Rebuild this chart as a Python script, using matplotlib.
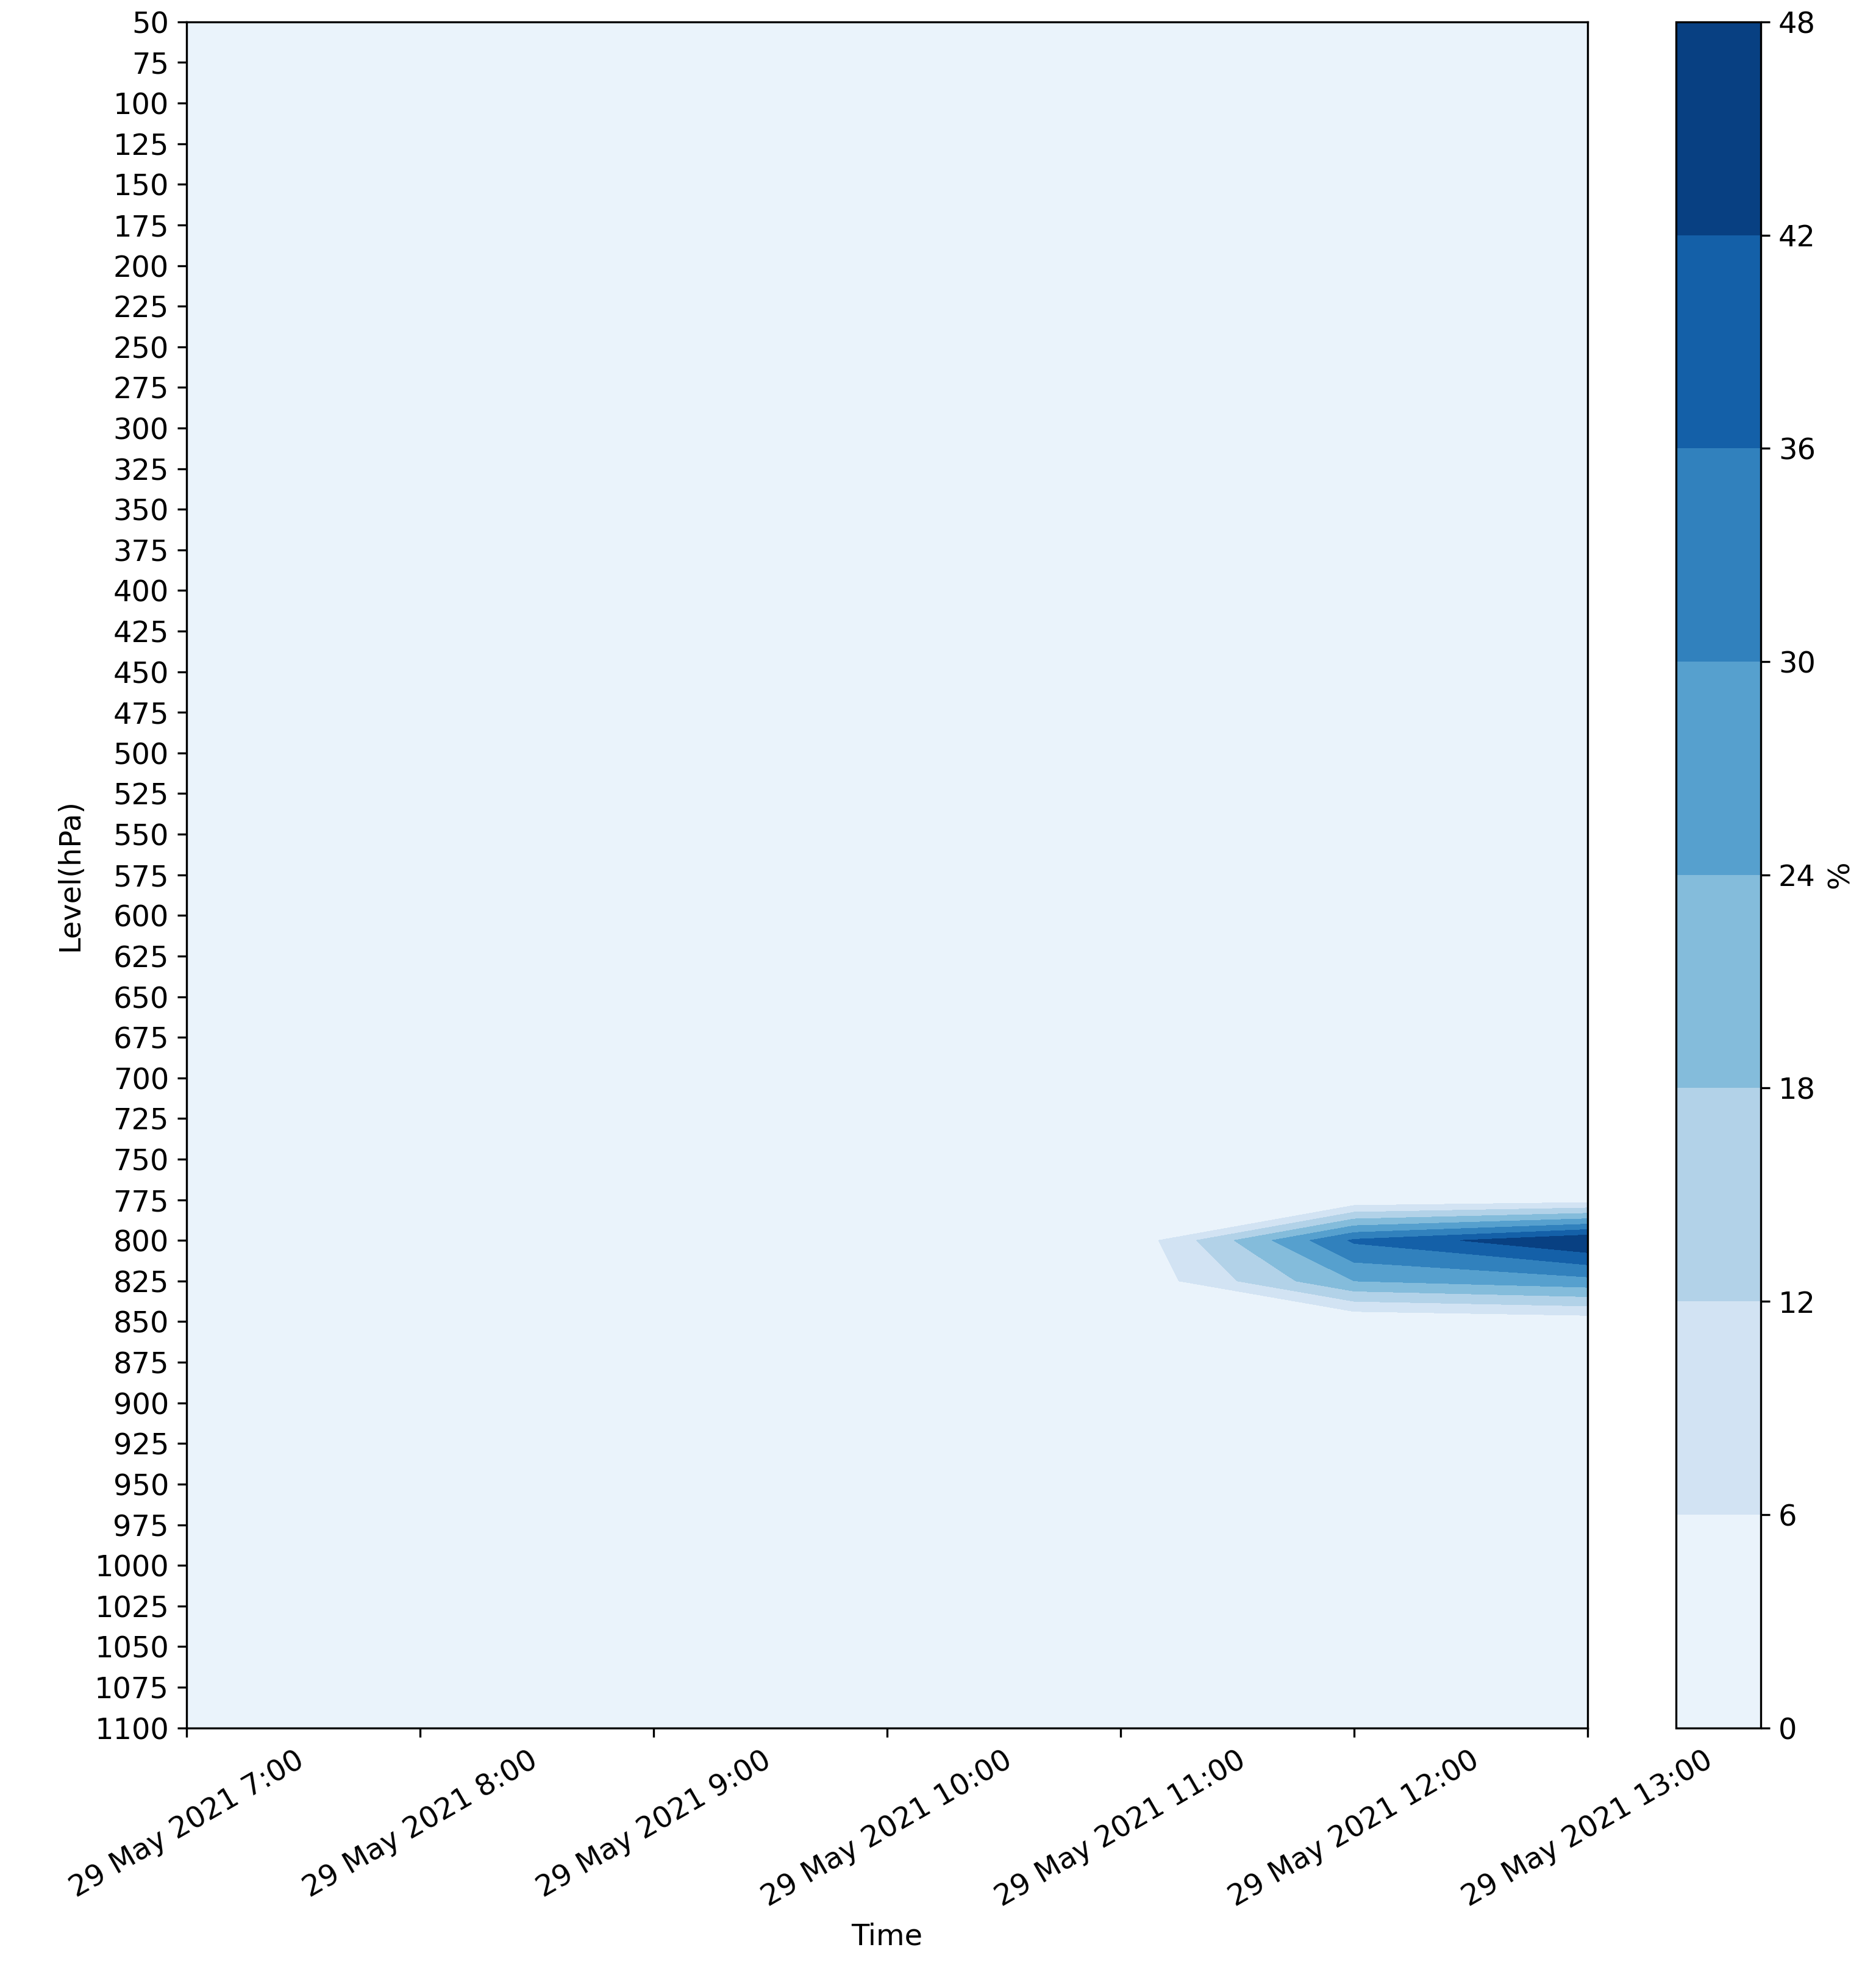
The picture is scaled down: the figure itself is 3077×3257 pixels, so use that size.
import matplotlib
matplotlib.use("Agg")
import matplotlib.pyplot as plt
import numpy as np

hours = [7, 8, 9, 10, 11, 12, 13]
time_labels = [f"29 May 2021 {h}:00" for h in hours]
levels_hpa = list(range(50, 1101, 25))
# nonzero cloud values (level -> values at hours 7..13)
nonzero = {
    775: [0, 0, 0, 0, 0, 1, 3],
    800: [0, 0, 0, 0, 0, 37, 48],
    825: [0, 0, 0, 0, 0, 24, 28],
    850: [0, 0, 0, 0, 0, 0, 2],
}
contour_levels = [0, 6, 12, 18, 24, 30, 36, 42, 48]

Z = np.zeros((len(levels_hpa), len(hours)))
for lev, vals in nonzero.items():
    Z[levels_hpa.index(lev), :] = vals

plt.rcParams['font.size'] = 11.5
fig = plt.figure(figsize=(3077/300, 3257/300), dpi=300)
ax = fig.add_axes([0.0995, 0.130, 0.7468, 0.859])
cax = fig.add_axes([0.8935, 0.130, 0.045, 0.859])
cf = ax.contourf(hours, levels_hpa, Z, levels=contour_levels, cmap="Blues")
ax.set_ylim(1100, 50)
ax.set_xlim(7, 13)
ax.set_yticks(levels_hpa)
ax.set_yticklabels([str(l) for l in levels_hpa])
ax.set_xticks(hours)
ax.set_xticklabels(time_labels, rotation=30, ha="center")
ax.set_xlabel("Time")
ax.set_ylabel("Level(hPa)")
cb = fig.colorbar(cf, cax=cax)
cb.set_label("%")
fig.savefig("out.png", dpi=300)
